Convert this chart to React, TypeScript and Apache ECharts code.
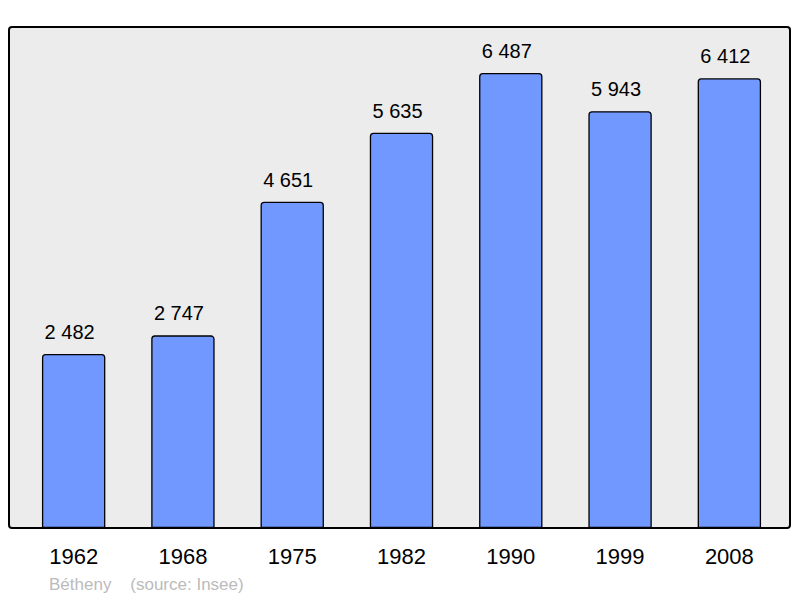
import React, { useEffect, useRef } from "react";
import * as echarts from "echarts";

const years = ["1962", "1968", "1975", "1982", "1990", "1999", "2008"];
const population = [2482, 2747, 4651, 5635, 6487, 5943, 6412];
const caption = "Bétheny    (source: Insee)";

const fmt = (v: number) => String(v).replace(/\B(?=(\d{3})+(?!\d))/g, " ");

export default function App() {
  const ref = useRef<HTMLDivElement>(null);
  useEffect(() => {
    if (!ref.current) return;
    const chart = echarts.init(ref.current, null, { renderer: "svg" });
    chart.setOption({
      animation: false,
      textStyle: { fontFamily: "Liberation Sans, Arial, sans-serif" },
      grid: { left: 19, right: 16, top: 27, bottom: 70 },
      graphic: [
        {
          type: "rect",
          z: -10,
          shape: { x: 9, y: 27, width: 781, height: 501, r: 3 },
          style: { fill: "#ececec", stroke: "#000", lineWidth: 2 },
          silent: true,
        },
        {
          type: "text",
          left: 49,
          top: 576,
          style: { text: caption, fill: "#bbbbbb", fontSize: 17, fontFamily: "Liberation Sans, Arial, sans-serif" },
        },
      ],
      xAxis: {
        type: "category",
        data: years,
        axisLine: { show: false },
        axisTick: { show: false },
        axisLabel: { color: "#000", fontSize: 22, margin: 17, fontFamily: "Liberation Sans, Arial, sans-serif" },
      },
      yAxis: {
        type: "value",
        min: 0,
        max: 7143,
        show: false,
        splitLine: { show: false },
      },
      series: [
        {
          type: "bar",
          data: population,
          barWidth: "58%",
          z: 2,
          itemStyle: { color: "#7098ff", borderColor: "#000", borderWidth: 1.3, borderRadius: [3, 3, 0, 0] },
          label: {
            show: true,
            position: "top",
            distance: 12,
            offset: [-4, 0],
            color: "#000",
            fontSize: 20,
            fontFamily: "Liberation Sans, Arial, sans-serif",
            formatter: (p: any) => fmt(p.value),
          },
        },
      ],
    });
    return () => chart.dispose();
  }, []);
  return <div ref={ref} style={{ width: 800, height: 598, position: "absolute", left: 0, top: 0 }} />;
}
